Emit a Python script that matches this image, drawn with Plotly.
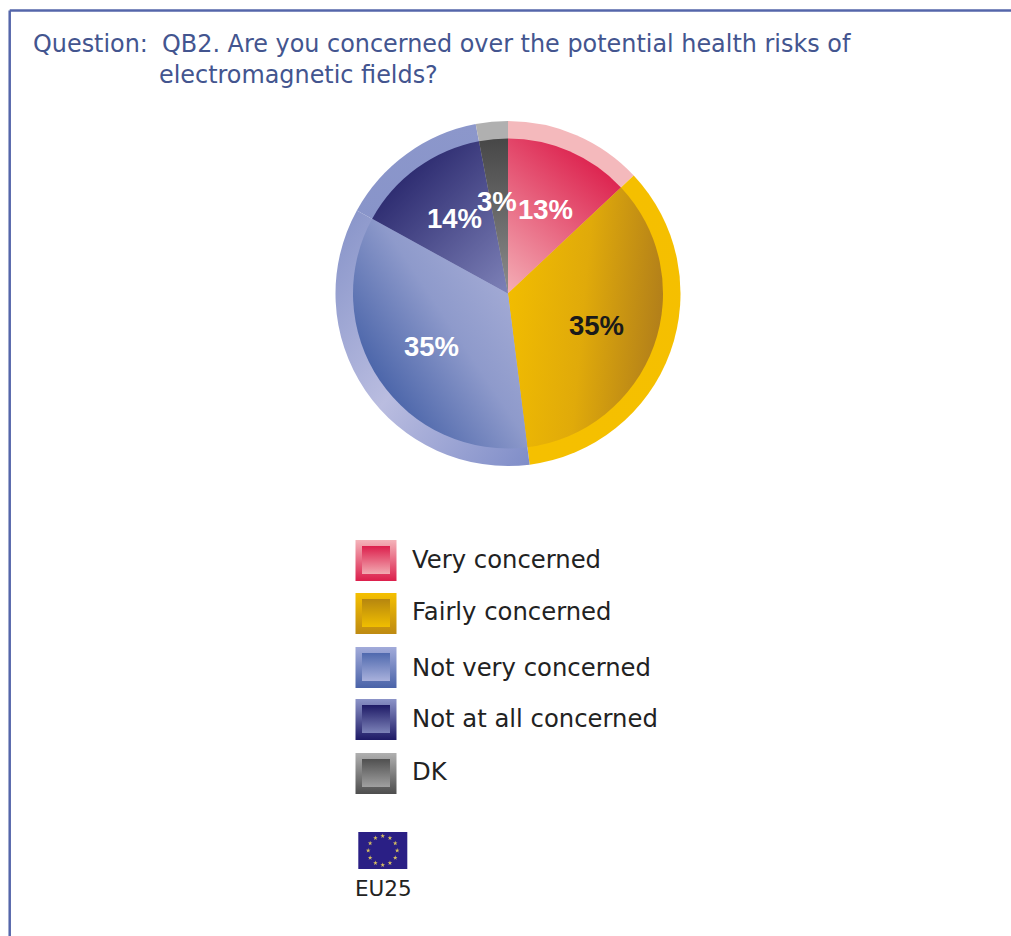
import json
import math
import plotly.graph_objects as go

categories = ["Very concerned", "Fairly concerned", "Not very concerned", "Not at all concerned", "DK"]
values = [13, 35, 35, 14, 3]
area_label = "EU25"
question_head = "Question:"
question_line_1 = "QB2. Are you concerned over the potential health risks of"
question_line_2 = "electromagnetic fields?"

W, H = 1011, 936
CX, CY, R_OUT, R_IN = 508, 293.5, 172.5, 155

ring_flat = ["#F4B9BC", "#F5BF00", "#9AA4D4", "#8592C8", "#B0B0B0"]
core_flat = ["#E8486A", "#D9A50C", "#7F8CC4", "#46437F", "#6A6A6A"]
label_colors = ["white", "#1a1a1a", "white", "white", "white"]
label_xy = [(545, 209), (596, 325), (431, 346), (454, 218), (497, 201)]

swatch_top = [540, 593, 647, 699, 753]
legend_text_y = [559, 611, 667, 718, 771]


def dom(r):
    return dict(x=[(CX - r) / W, (CX + r) / W], y=[1 - (CY + r) / H, 1 - (CY - r) / H])


fig = go.Figure()
for r, cols in ((R_OUT, ring_flat), (R_IN, core_flat)):
    fig.add_trace(go.Pie(labels=categories, values=values, sort=False, direction="clockwise",
                         rotation=0, domain=dom(r), textinfo="none", hoverinfo="skip",
                         marker=dict(colors=cols, line=dict(width=0)), showlegend=False))

# EU flag stars
flag_cx, flag_cy = 382.7, 850.5
fig.add_trace(go.Scatter(
    x=[flag_cx + 14.5 * math.sin(i * math.pi / 6) for i in range(12)],
    y=[flag_cy - 14.5 * math.cos(i * math.pi / 6) for i in range(12)],
    mode="markers", marker=dict(symbol="star", size=3.5, color="#D8C060"),
    hoverinfo="skip", showlegend=False, xaxis="x", yaxis="y"))

ann = []
font_txt = "DejaVu Sans"


def text(x, y, s, size, color, family=font_txt):
    ann.append(dict(x=x, y=y, xref="x", yref="y", text=s, showarrow=False,
                    xanchor="left", yanchor="middle", align="left",
                    font=dict(size=size, color=color, family=family)))


text(31, 44, question_head, 23.9, "#43558F")
text(159.5, 44, question_line_1, 23.9, "#43558F")
text(157, 75, question_line_2, 23.9, "#43558F")
for c, y in zip(categories, legend_text_y):
    text(410, y, c, 24.3, "#222222")
text(353, 888, area_label, 21.5, "#222222")
for v, (x, y), col in zip(values, label_xy, label_colors):
    ann.append(dict(x=x, y=y, xref="x", yref="y", text=f"<b>{v}%</b>", showarrow=False,
                    xanchor="center", yanchor="middle",
                    font=dict(size=27.5, color=col, family="Liberation Sans")))

shapes = [
    dict(type="line", x0=9.7, x1=1011, y0=10.5, y1=10.5, line=dict(color="#5566AA", width=2.5)),
    dict(type="line", x0=9.7, x1=9.7, y0=10.5, y1=936, line=dict(color="#5566AA", width=2.5)),
    dict(type="rect", x0=358.3, x1=407.3, y0=832, y1=869, fillcolor="#2A1F85", line=dict(width=0), layer="below"),
]
for c, top in zip(core_flat, swatch_top):
    shapes.append(dict(type="rect", x0=355.5, x1=396.5, y0=top, y1=top + 41, fillcolor=c, line=dict(width=0), layer="above"))
    shapes.append(dict(type="rect", x0=362, x1=390, y0=top + 6, y1=top + 34, fillcolor=c, line=dict(width=0), layer="above"))

fig.update_layout(
    width=W, height=H, margin=dict(l=0, r=0, t=0, b=0), autosize=False,
    paper_bgcolor="white", plot_bgcolor="rgba(0,0,0,0)",
    xaxis=dict(range=[0, W], visible=False, domain=[0, 1], fixedrange=True),
    yaxis=dict(range=[H, 0], visible=False, domain=[0, 1], fixedrange=True),
    annotations=ann, shapes=shapes)

# (x1, y1, x2, y2, [colours]) for gradients painted over the plotly-drawn slices
ring_grad = [
    (0, 0, 0, 1, ["#F4B9BC", "#F4B9BC"]),
    (0, 0, 0, 1, ["#F5BF00", "#F5C000"]),
    (0, 0, 1, 1, ["#8592C8", "#BABDE0", "#7F8DC8"]),
    (0, 0, 0, 1, ["#8C97CB", "#8592C8"]),
    (0, 0, 0, 1, ["#B0B0B0", "#B0B0B0"]),
]
core_grad = [
    (0.6, 0, 0, 1, ["#DC1F4C", "#F4AEB6"]),
    (0, 0.3, 1, 0.45, ["#F2BD00", "#E0AA0A", "#B27F1A"]),
    (0.95, 0.05, 0.1, 0.8, ["#AEB3DA", "#8E9ACB", "#3E5BA3"]),
    (0.1, 0, 1, 1, ["#1B1860", "#7E82B8"]),
    (0, 0, 0, 1, ["#474747", "#8C8C8C"]),
]
swatch_frame = [["#F4B4BA", "#DC1F4C"], ["#F5C000", "#BE8A12"], ["#A2ABDA", "#4A63A8"],
                ["#8C94C8", "#1E1A66"], ["#B0B0B0", "#4E4E4E"]]
swatch_core = [["#DC1F4C", "#F2AAB2"], ["#B6860F", "#F0BE00"], ["#4F69AE", "#A9B1DC"],
               ["#1E1A66", "#7C82B8"], ["#505050", "#A0A0A0"]]

post = """
document.body.style.margin = '0';
var gd = document.getElementById('{plot_id}');
var ring = %s, core = %s, frame = %s, inner = %s;
var NS = 'http://www.w3.org/2000/svg';
var svg = gd.querySelector('svg.main-svg');
var defs = document.createElementNS(NS, 'defs');
svg.insertBefore(defs, svg.firstChild);
var n = 0;
function grad(g) {
  var el = document.createElementNS(NS, 'linearGradient');
  var id = 'g' + (n++);
  el.setAttribute('id', id);
  ['x1','y1','x2','y2'].forEach(function(k, i) { el.setAttribute(k, g[i]); });
  g[4].forEach(function(c, i) {
    var s = document.createElementNS(NS, 'stop');
    s.setAttribute('offset', i / (g[4].length - 1));
    s.setAttribute('stop-color', c);
    el.appendChild(s);
  });
  defs.appendChild(el);
  return 'url(#' + id + ')';
}
var traces = gd.querySelectorAll('.pielayer .trace');
[ring, core].forEach(function(gs, t) {
  var paths = traces[t].querySelectorAll('.slice path.surface');
  paths.forEach(function(p, i) { p.style.fill = grad(gs[i]); });
});
var rects = Array.prototype.filter.call(gd.querySelectorAll('.layer-above .shapelayer path'),
  function(p) { return p.style.fill && p.style.fill !== 'none' && p.style.fillOpacity !== '0'; });
rects.forEach(function(p, i) {
  var k = Math.floor(i / 2);
  var cols = (i %% 2 === 0 ? frame : inner)[k];
  p.style.fill = grad([0, 0, 0, 1, cols]);
});
""" % (json.dumps(ring_grad), json.dumps(core_grad), json.dumps(swatch_frame), json.dumps(swatch_core))

fig.write_html("out.html", post_script=post, config=dict(displayModeBar=False))
